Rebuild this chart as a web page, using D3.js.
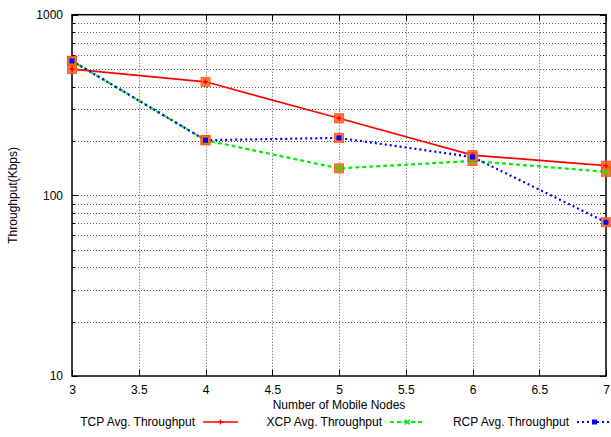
<!DOCTYPE html>
<html><head><meta charset="utf-8">
<script src="https://cdn.jsdelivr.net/npm/d3@7"></script>
<style>body{margin:0;background:#fff}svg{display:block;font-family:"Liberation Sans",Arial,sans-serif}</style>
</head><body><svg id="c" width="611" height="437"></svg>
<script>
const nodes = [3, 4, 5, 6, 7];
const tcp = [500, 425, 267, 167, 146];
const xcp = [555, 202, 141, 155, 135];
const rcp = [555, 202, 208, 163, 71];
const xTicks = [3, 3.5, 4, 4.5, 5, 5.5, 6, 6.5, 7];
const yMajor = [10, 100, 1000];
const seriesNames = ["TCP Avg. Throughput", "XCP Avg. Throughput", "RCP Avg. Throughput"];

const svg = d3.select("#c");
const L = 72, R = 606, T = 14.7, B = 376;
const x = d3.scaleLinear().domain([3, 7]).range([L, R]);
const y = d3.scaleLog().domain([10, 1000]).range([B, T]);

const yMinor = [];
for (let d = 10; d < 1000; d *= 10) for (let k = 2; k <= 9; k++) yMinor.push(d * k);

const grid = svg.append("g").attr("stroke", "#555").attr("stroke-width", 1).attr("stroke-dasharray", "1,2");
xTicks.slice(1, -1).forEach(t => grid.append("line").attr("x1", Math.round(x(t)) + 0.5).attr("x2", Math.round(x(t)) + 0.5).attr("y1", T).attr("y2", B));
yMinor.concat([100]).forEach(v => grid.append("line").attr("x1", L).attr("x2", R).attr("y1", Math.round(y(v)) + 0.5).attr("y2", Math.round(y(v)) + 0.5));

// axes via d3
const axB = svg.append("g").attr("transform", `translate(0,${B})`).call(d3.axisBottom(x).tickValues(xTicks).tickSize(0).tickPadding(9).tickFormat(d3.format("")));
axB.select(".domain").remove();
axB.selectAll("text").attr("font-size", 12).attr("fill", "#000").attr("font-family", "Liberation Sans, Arial, sans-serif");
const axL = svg.append("g").attr("transform", `translate(${L},0)`).call(d3.axisLeft(y).tickValues(yMajor).tickSize(0).tickPadding(9).tickFormat(d3.format("d")));
axL.select(".domain").remove();
axL.selectAll("text").attr("font-size", 12).attr("fill", "#000").attr("font-family", "Liberation Sans, Arial, sans-serif");

// tick marks inside (mirrored)
const tk = svg.append("g").attr("stroke", "#000").attr("stroke-width", 1);
xTicks.forEach(t => {
  const xx = Math.round(x(t)) + 0.5;
  tk.append("line").attr("x1", xx).attr("x2", xx).attr("y1", B).attr("y2", B - 6);
  tk.append("line").attr("x1", xx).attr("x2", xx).attr("y1", T).attr("y2", T + 6);
});
yMajor.forEach(v => {
  const yy = Math.round(y(v)) + 0.5;
  tk.append("line").attr("x1", L).attr("x2", L + 6).attr("y1", yy).attr("y2", yy);
  tk.append("line").attr("x1", R).attr("x2", R - 6).attr("y1", yy).attr("y2", yy);
});
yMinor.forEach(v => {
  const yy = Math.round(y(v)) + 0.5;
  tk.append("line").attr("x1", L).attr("x2", L + 3).attr("y1", yy).attr("y2", yy);
  tk.append("line").attr("x1", R).attr("x2", R - 3).attr("y1", yy).attr("y2", yy);
});
svg.append("rect").attr("x", L).attr("y", T).attr("width", R - L).attr("height", B - T).attr("fill", "none").attr("stroke", "#000").attr("stroke-width", 1.5);

// series
const styles = [
  {data: tcp, color: "#ff0000", dash: null, w: 1.6, mark: "plus"},
  {data: xcp, color: "#00ee00", dash: "4,3", w: 2.2, mark: "cross"},
  {data: rcp, color: "#0000ff", dash: "2,3", w: 2.2, mark: "square"}
];
const line = d3.line().x((d, i) => x(nodes[i])).y(d => y(d));
styles.forEach(s => {
  svg.append("path").datum(s.data).attr("d", line).attr("fill", "none").attr("stroke", s.color)
    .attr("stroke-width", s.w).attr("stroke-dasharray", s.dash);
});
function marker(g, type, cx, cy, color, sz) {
  if (type === "plus") {
    g.append("path").attr("d", `M${cx - sz},${cy}H${cx + sz}M${cx},${cy - sz}V${cy + sz}`).attr("stroke", color).attr("stroke-width", 1.5);
  } else if (type === "cross") {
    g.append("path").attr("d", `M${cx - sz},${cy - sz}L${cx + sz},${cy + sz}M${cx - sz},${cy + sz}L${cx + sz},${cy - sz}`).attr("stroke", color).attr("stroke-width", 1.5);
  } else {
    g.append("rect").attr("x", cx - sz).attr("y", cy - sz).attr("width", 2 * sz).attr("height", 2 * sz).attr("fill", color);
  }
}
const mg = svg.append("g");
styles.forEach(s => {
  s.data.forEach((v, i) => {
    mg.append("rect").attr("x", x(nodes[i]) - 4.5).attr("y", y(v) - 4.5).attr("width", 9).attr("height", 9)
      .attr("fill", "#ff6a2a").attr("stroke", "#ff5010").attr("stroke-width", 1).attr("opacity", 0.9);
  });
});
styles.forEach(s => {
  s.data.forEach((v, i) => marker(mg, s.mark, x(nodes[i]), y(v), s.color, 2.5));
});

// titles
svg.append("text").attr("x", (L + R) / 2).attr("y", 409).attr("text-anchor", "middle").attr("font-size", 12).text("Number of Mobile Nodes");
svg.append("text").attr("transform", `translate(17,${(T + B) / 2}) rotate(-90)`).attr("text-anchor", "middle").attr("font-size", 12).text("Throughput(Kbps)");

// legend
const legX = [195, 382, 569];
styles.forEach((s, i) => {
  const lx = legX[i], ly = 422;
  svg.append("text").attr("x", lx).attr("y", ly + 4).attr("text-anchor", "end").attr("font-size", 12).text(seriesNames[i]);
  svg.append("line").attr("x1", lx + 8).attr("x2", lx + 43).attr("y1", ly).attr("y2", ly)
    .attr("stroke", s.color).attr("stroke-width", s.w).attr("stroke-dasharray", s.dash);
  marker(svg, s.mark, lx + 25.5, ly, s.color, 2.5);
});
</script></body></html>
